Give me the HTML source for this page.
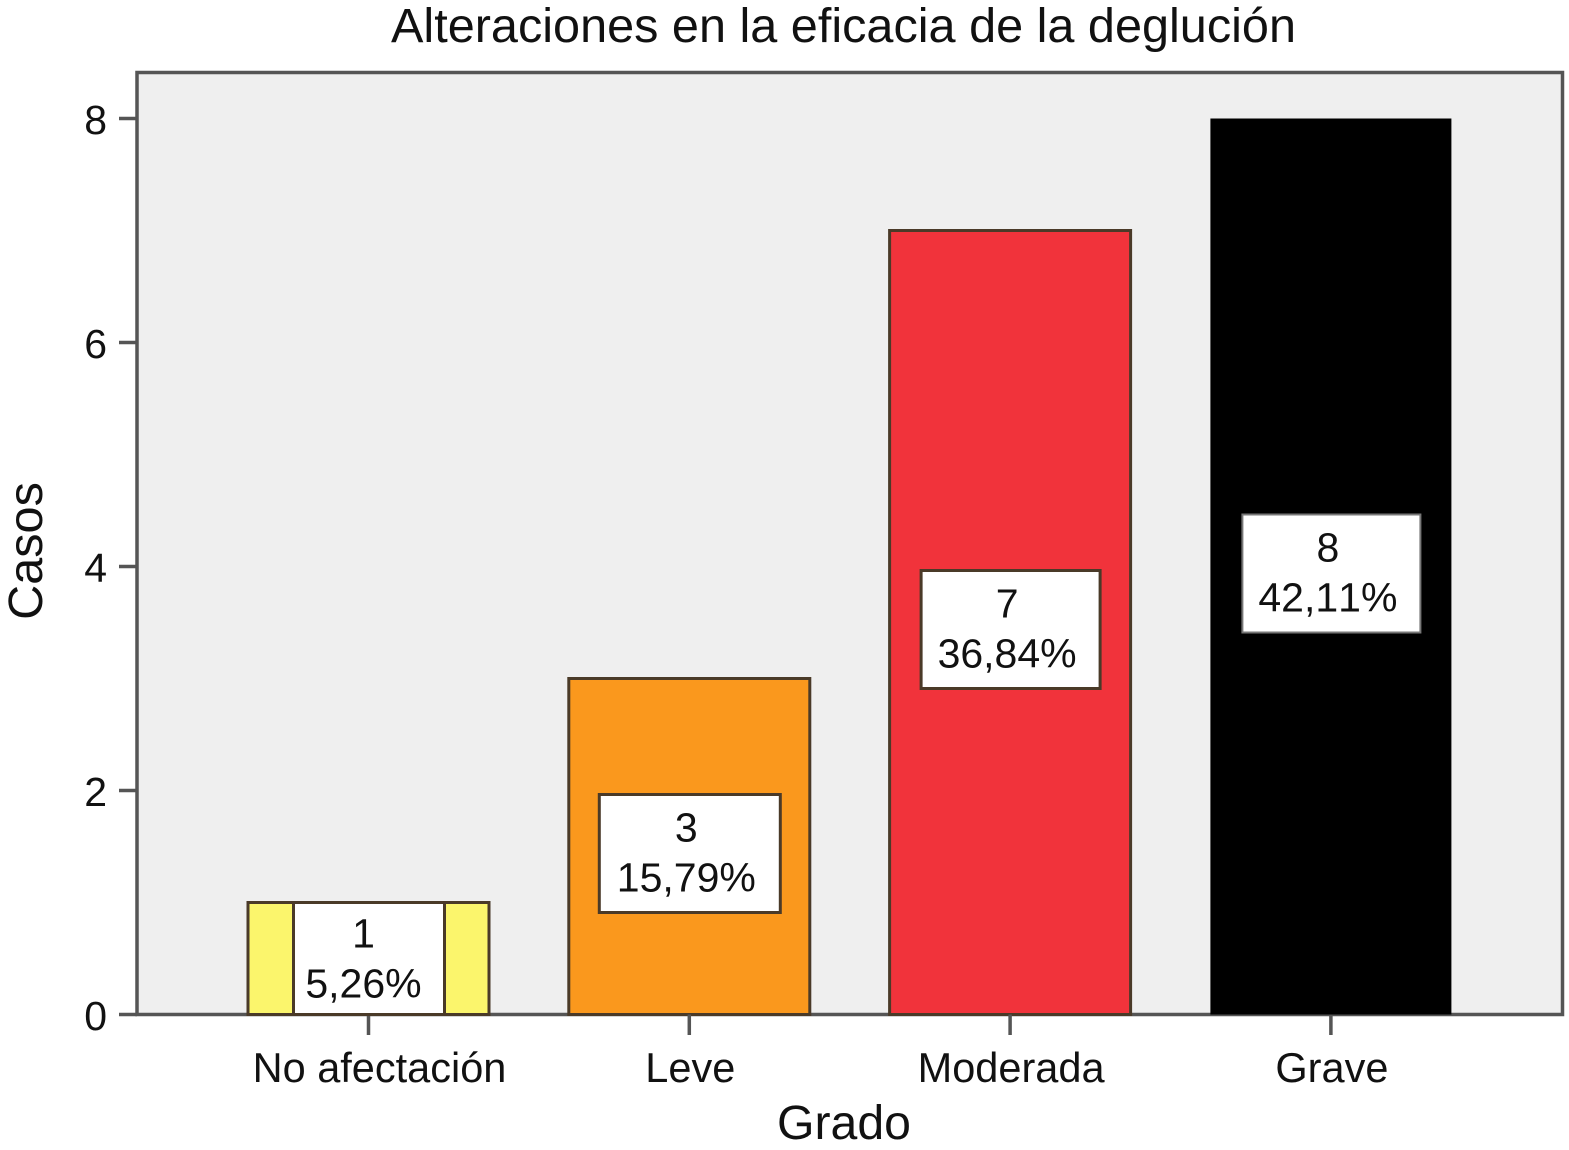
<!DOCTYPE html>
<html>
<head>
<meta charset="utf-8">
<style>
html,body{margin:0;padding:0;background:#fff;}
svg{display:block;}
text{font-family:"Liberation Sans",sans-serif;fill:#111;font-kerning:none;}
</style>
</head>
<body>
<svg id="chart" width="1569" height="1150" viewBox="0 0 1569 1150" xmlns="http://www.w3.org/2000/svg"></svg>
<script>
const categories = ["No afectación", "Leve", "Moderada", "Grave"];
const caseValues = [1, 3, 7, 8];
const percentLabels = ["5,26%", "15,79%", "36,84%", "42,11%"];
const barColors = ["#fbf56c", "#fa981d", "#f1333b", "#000000"];
const yTicks = [0, 2, 4, 6, 8];

const svg = document.getElementById('chart');
const NS = 'http://www.w3.org/2000/svg';
function yScale(v){ return 1014.5 - v * (1014.5 - 118.5) / 8; }
function xScale(i){ return 368.5 + i * 320.8; }
function make(tag, attrs, parent){
  const e = document.createElementNS(NS, tag);
  for (const k in attrs) e.setAttribute(k, attrs[k]);
  (parent || svg).appendChild(e);
  return e;
}
const plotBg = make('rect', {x:137, y:72.5, width:1425.5, height:942, fill:'#efefef', stroke:'#555', 'stroke-width':3.5});



const title = make('text', {x:843.5, y:42, 'font-size':48.6, 'text-anchor':'middle'});
title.textContent = 'Alteraciones en la eficacia de la deglución';



yTicks.forEach(function(t){
  const tick = make('line', {x1:119, x2:137, y1:yScale(t), y2:yScale(t), stroke:'#555', 'stroke-width':3.5});
  
  
  const lab = make('text', {x:107, y:yScale(t) + 15.5, 'font-size':41, 'text-anchor':'end'});
  lab.textContent = t;
  
  
});

const barW = 241;
const boxW = [151, 181, 179, 178];
const boxH = 118;
categories.forEach(function(c, i){
  const cx = xScale(i);
  const top = yScale(caseValues[i]);
  const isBlack = barColors[i] === '#000000';
  const bar = make('rect', {x:cx - barW / 2, y:top, width:barW, height:yScale(0) - top, fill:barColors[i], stroke:isBlack ? 'none' : '#4a3a28', 'stroke-width':3});
  
  

  const tick = make('line', {x1:cx, x2:cx, y1:yScale(0), y2:1035, stroke:'#555', 'stroke-width':3.5});
  
  

  const lab = make('text', {x:i === 0 ? cx + 11 : cx + 1, y:1082, 'font-size':41.5, 'text-anchor':'middle'});
  lab.textContent = c;
  
  

  const mid = (top + yScale(0)) / 2;
  const boxY = Math.min(mid - boxH / 2 + 7, yScale(0) - 112);
  const box = make('rect', {x:cx - boxW[i] / 2 + 0.5, y:boxY, width:boxW[i], height:i === 0 ? yScale(0) - boxY : boxH, fill:'#fff', stroke:isBlack ? '#777' : '#4a3a28', 'stroke-width':isBlack ? 2 : 3});
  
  

  const textCx = cx - (i === 0 ? 5 : 3);
  const textShift = i === 0 ? -2 : 0;
  const countText = make('text', {x:textCx, y:boxY + 47 + textShift, 'font-size':41, 'text-anchor':'middle'});
  countText.textContent = caseValues[i];
  
  

  const pctText = make('text', {x:textCx, y:boxY + 97 + textShift, 'font-size':41, 'text-anchor':'middle'});
  pctText.textContent = percentLabels[i];
  
  
});

const xTitle = make('text', {x:844, y:1139, 'font-size':48.2, 'text-anchor':'middle'});
xTitle.textContent = 'Grado';



const yTitle = make('text', {x:0, y:0, 'font-size':48.6, 'text-anchor':'middle', transform:'translate(42 551) rotate(-90)'});
yTitle.textContent = 'Casos';


</script>
</body>
</html>
